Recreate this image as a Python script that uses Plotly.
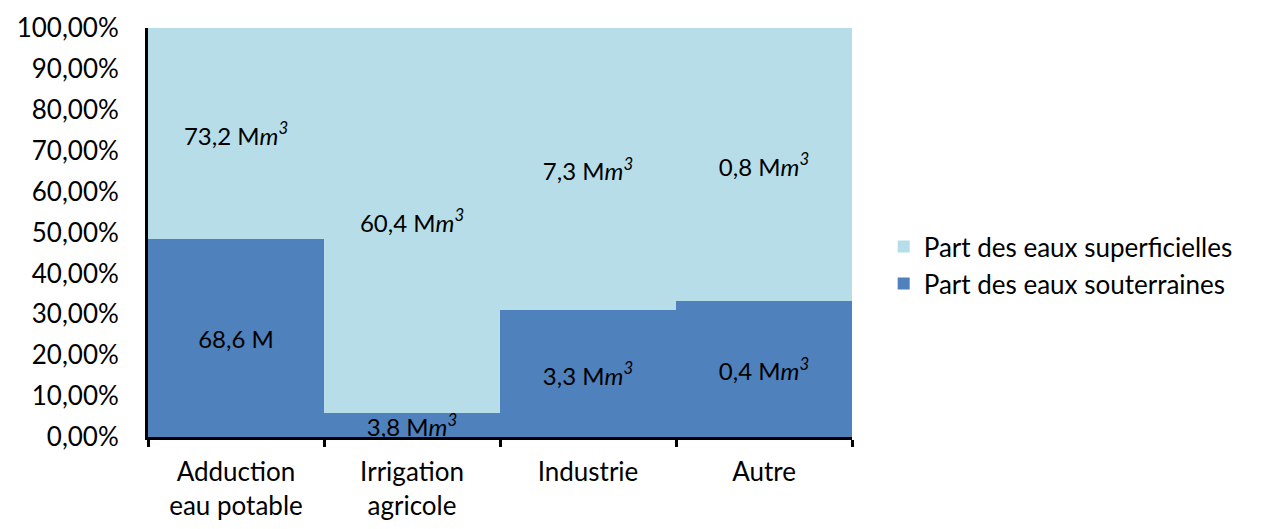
import plotly.graph_objects as go

# Usage categories
categories = ["Adduction<br>eau potable", "Irrigation<br>agricole", "Industrie", "Autre"]

# Volumes withdrawn (millions of m3)
souterraines = [68.6, 3.8, 3.3, 0.4]
superficielles = [73.2, 60.4, 7.3, 0.8]

# Unit suffixes shown after each volume
unit_sout = [" M", " M<i>m</i><sup><i>3</i></sup>", " M<i>m</i><sup><i>3</i></sup>", " M<i>m</i><sup><i>3</i></sup>"]
unit_sup = [" M<i>m</i><sup><i>3</i></sup>"] * 4

y_tickvals = [i / 10 for i in range(11)]


def fr(v):
    return f"{v:.1f}".replace(".", ",")


FONT = "Lato, Calibri, Carlito, sans-serif"
FS_AXIS = 26
FS_BAR = 24
FS_LEG = 26

fig = go.Figure()
fig.add_trace(go.Bar(
    name="Part des eaux souterraines",
    x=categories, y=souterraines,
    marker=dict(color="#4F81BD", line=dict(width=0)),
    text=[fr(v) + u for v, u in zip(souterraines, unit_sout)],
    textposition="inside", insidetextanchor="middle",
    textfont=dict(color="black", size=FS_BAR, family=FONT),
    hoverinfo="skip",
))
fig.add_trace(go.Bar(
    name="Part des eaux superficielles",
    x=categories, y=superficielles,
    marker=dict(color="#B7DEE8", line=dict(width=0)),
    text=[fr(v) + u for v, u in zip(superficielles, unit_sup)],
    textposition="inside", insidetextanchor="middle",
    textfont=dict(color="black", size=FS_BAR, family=FONT),
    hoverinfo="skip",
))

fig.update_layout(
    width=1268, height=529,
    barmode="stack", barnorm="fraction", bargap=0,
    separators=", ",
    margin=dict(l=148, r=416, t=28, b=92, autoexpand=False),
    paper_bgcolor="white", plot_bgcolor="white",
    font=dict(family=FONT, size=FS_AXIS, color="black"),
    uniformtext=dict(minsize=FS_BAR, mode="show"),
    showlegend=True,
    legend=dict(
        x=1.045, xanchor="left", y=0.42, yanchor="middle",
        traceorder="reversed", font=dict(size=FS_LEG, family=FONT),
        itemwidth=30, tracegroupgap=8,
    ),
)
fig.update_xaxes(
    showline=True, linewidth=3, linecolor="black",
    ticks="outside", tickson="boundaries", ticklen=7, tickwidth=3, tickcolor="black",
    showgrid=False, tickfont=dict(size=FS_AXIS, family=FONT),
    ticklabelstandoff=10, automargin=False,
)
fig.update_yaxes(
    range=[0, 1], tickvals=y_tickvals, tickformat=".2%",
    showline=True, linewidth=3, linecolor="black",
    ticks="", showgrid=False, zeroline=False,
    ticklabelstandoff=21, tickfont=dict(size=FS_AXIS, family=FONT),
    automargin=False,
)

fig.write_html("out.html")
